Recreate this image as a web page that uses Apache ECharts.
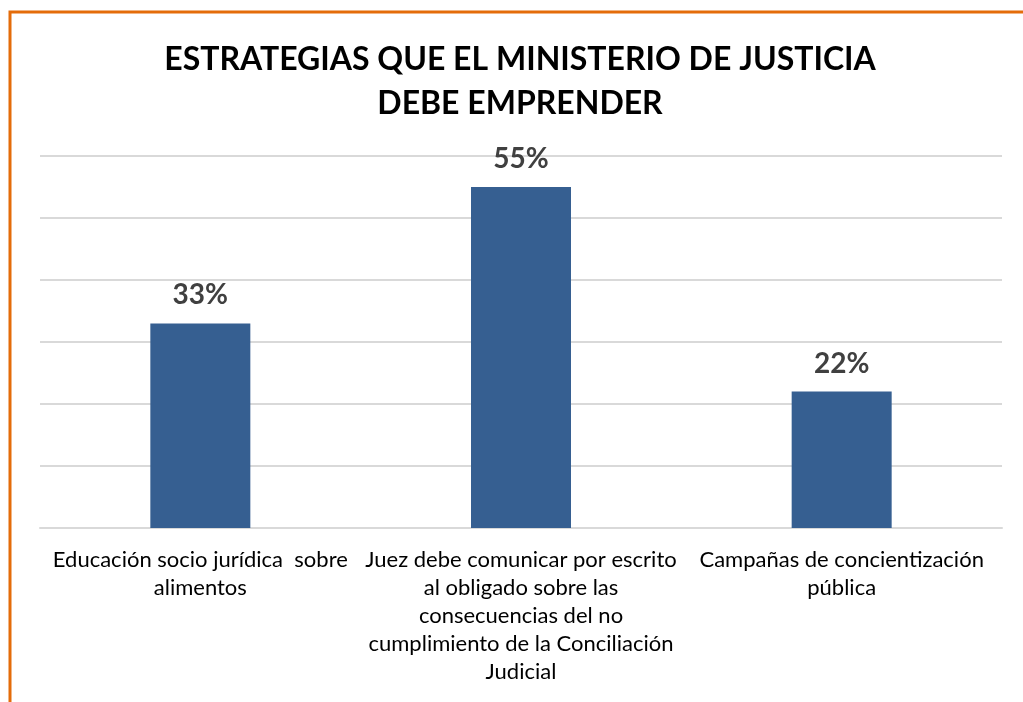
<!DOCTYPE html>
<html><head><meta charset="utf-8">
<script src="https://cdn.jsdelivr.net/npm/echarts@6/dist/echarts.min.js"></script>
<style>html,body{margin:0;padding:0;background:#fff}#c{width:1023px;height:702px}</style>
</head><body><div id="c"></div>
<script>
const titleText = "ESTRATEGIAS QUE EL MINISTERIO DE JUSTICIA\nDEBE EMPRENDER";
const categories = [
  "Educación socio jurídica  sobre\nalimentos",
  "Juez debe comunicar por escrito\nal obligado sobre las\nconsecuencias del no\ncumplimiento de la Conciliación\nJudicial",
  "Campañas de concientización\npública"
];
const values = [33, 55, 22];
const yTicks = [0, 10, 20, 30, 40, 50, 60];

const chart = echarts.init(document.getElementById('c'));
chart.setOption({
  backgroundColor: '#fff',
  animation: false,
  title: {
    text: titleText, left: 515, top: 33, textAlign: 'center',
    textStyle: { fontFamily: 'Lato', fontWeight: 'bold', fontSize: 32, color: '#000', lineHeight: 44 }
  },
  graphic: [{
    type: 'rect', shape: { x: 10, y: 12, width: 1100, height: 800 },
    style: { fill: 'none', stroke: '#E46C0A', lineWidth: 3 }, z: 100
  }],
  grid: { left: 40, right: 21, top: 156, bottom: 174, containLabel: false },
  xAxis: {
    type: 'category', data: categories,
    axisLine: { lineStyle: { color: '#d9d9d9', width: 2 } },
    axisTick: { show: false },
    axisLabel: { interval: 0, margin: 18, fontFamily: 'Lato', fontSize: 22, color: '#000', lineHeight: 28 }
  },
  yAxis: {
    type: 'value', min: yTicks[0], max: yTicks[yTicks.length - 1], interval: 10,
    axisLabel: { show: false }, axisLine: { show: false }, axisTick: { show: false },
    splitLine: { lineStyle: { color: '#d9d9d9', width: 2 } }
  },
  series: [{
    type: 'bar', data: values, barWidth: 100,
    itemStyle: { color: '#365F91' },
    label: { show: true, position: 'top', distance: 14, formatter: '{c}%',
      fontFamily: 'Lato', fontWeight: 'bold', fontSize: 28, color: '#404040' }
  }]
});
</script></body></html>
